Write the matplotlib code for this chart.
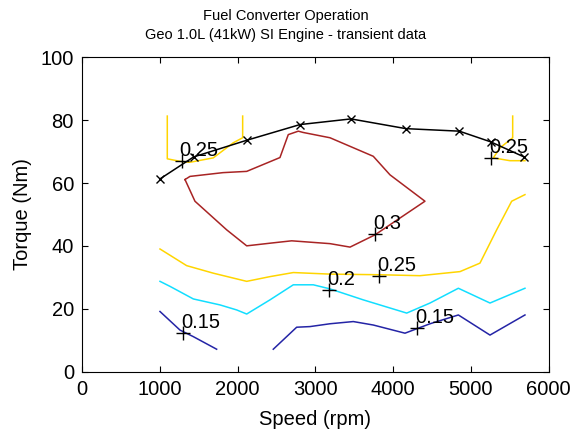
import matplotlib
matplotlib.use("Agg")
import matplotlib.pyplot as plt

plt.rcParams['font.family'] = ['Liberation Sans', 'DejaVu Sans']

# Max torque curve (black, x markers)
max_speed = [1000, 1433, 2116, 2802, 3458, 4166, 4852, 5256, 5685]
max_torque = [61.3, 68.3, 73.6, 78.6, 80.4, 77.3, 76.5, 73.1, 68.3]

# Efficiency contour 0.30 (closed loop)
c30_x = [1322, 1386, 1811, 2116, 2544, 2651, 2780, 2840, 3188, 3745, 3960, 4410,
         3767, 3446, 3188, 2695, 2437, 2116, 1858, 1450, 1322]
c30_y = [61.1, 62.1, 63.3, 63.7, 68.1, 75.4, 76.5, 76.1, 74.4, 68.5, 62.6, 54.2,
         43.5, 39.6, 40.7, 41.6, 40.9, 40.0, 45.1, 54.2, 61.1]

# Efficiency contour 0.25 (three pieces)
c25a_x = [1094, 1094, 1257, 1386, 1686, 1943, 2064, 2064]
c25a_y = [81.3, 67.7, 66.9, 66.6, 68.0, 72.8, 74.4, 81.3]
c25b_x = [5539, 5539, 5376, 5290, 5504, 5697]
c25b_y = [81.3, 74.4, 71.2, 68.0, 67.1, 67.1]
c25c_x = [1000, 1343, 1686, 2116, 2415, 2716, 3188, 3831, 4346, 4861, 5118, 5333, 5526, 5697]
c25c_y = [39.0, 33.7, 31.3, 28.7, 30.2, 31.5, 31.0, 30.8, 30.5, 31.8, 34.5, 45.1, 54.2, 56.3]

# Efficiency contour 0.20
c20_x = [1000, 1129, 1429, 1772, 1987, 2116, 2415, 2716, 2973, 3188, 3617, 4175,
         4475, 4840, 5247, 5697]
c20_y = [28.7, 27.1, 23.1, 21.2, 19.6, 18.3, 22.8, 27.6, 27.6, 26.3, 22.8, 18.6,
         21.8, 26.5, 21.8, 26.5]

# Efficiency contour 0.15 (two pieces)
c15a_x = [1000, 1257, 1429, 1729]
c15a_y = [19.1, 13.2, 11.1, 7.1]
c15b_x = [2458, 2759, 2930, 3188, 3488, 3745, 4153, 4475, 4840, 5247, 5697]
c15b_y = [7.1, 14.1, 14.3, 15.2, 15.9, 14.8, 12.2, 15.2, 18.0, 11.6, 18.0]

# Contour labels
label_text = ['0.25', '0.25', '0.3', '0.2', '0.25', '0.15', '0.15']
label_x = [1279, 5260, 3767, 3175, 3822, 1300, 4311]
label_y = [66.9, 68.0, 43.9, 26.0, 30.5, 12.4, 13.8]

col15 = '#2424A6'
col20 = '#12DEFF'
col25 = '#FFD500'
col30 = '#A82424'

fig = plt.figure(figsize=(5.71, 4.32), dpi=100)
ax = fig.add_axes([0.1441, 0.1400, 0.8165, 0.7273])

lw = 1.1
ax.plot(c15a_x, c15a_y, color=col15, lw=lw)
ax.plot(c15b_x, c15b_y, color=col15, lw=lw)
ax.plot(c20_x, c20_y, color=col20, lw=lw)
ax.plot(c25a_x, c25a_y, color=col25, lw=lw)
ax.plot(c25b_x, c25b_y, color=col25, lw=lw)
ax.plot(c25c_x, c25c_y, color=col25, lw=lw)
ax.plot(c30_x, c30_y, color=col30, lw=lw)

ax.plot(max_speed, max_torque, color='black', lw=lw, marker='x', markersize=6,
        markeredgewidth=1.0)

for t, x, y in zip(label_text, label_x, label_y):
    ax.plot([x], [y], marker='+', color='black', markersize=10, markeredgewidth=1.0)
    ax.annotate(t, xy=(x, y), xytext=(-2, 5), textcoords='offset pixels',
                ha='left', va='baseline', fontsize=14.5, color='black')

ax.set_xlim(0, 6000)
ax.set_ylim(0, 100)
ax.set_xticks([0, 1000, 2000, 3000, 4000, 5000, 6000])
ax.set_yticks([0, 20, 40, 60, 80, 100])
ax.tick_params(direction='in', length=4, width=0.8, top=True, right=True,
               labelsize=14.5, pad=6)
for s in ax.spines.values():
    s.set_linewidth(0.8)

ax.set_xlabel('Speed (rpm)', fontsize=14.5, labelpad=8)
ax.set_ylabel('Torque (Nm)', fontsize=14.5, labelpad=6)

fig.text(0.5, 1 - 16 / 432, 'Fuel Converter Operation', ha='center', va='center', fontsize=10.5)
fig.text(0.5, 1 - 35 / 432, 'Geo 1.0L (41kW) SI Engine - transient data', ha='center',
         va='center', fontsize=10.5)

fig.savefig('out.png', dpi=100, facecolor='white')
